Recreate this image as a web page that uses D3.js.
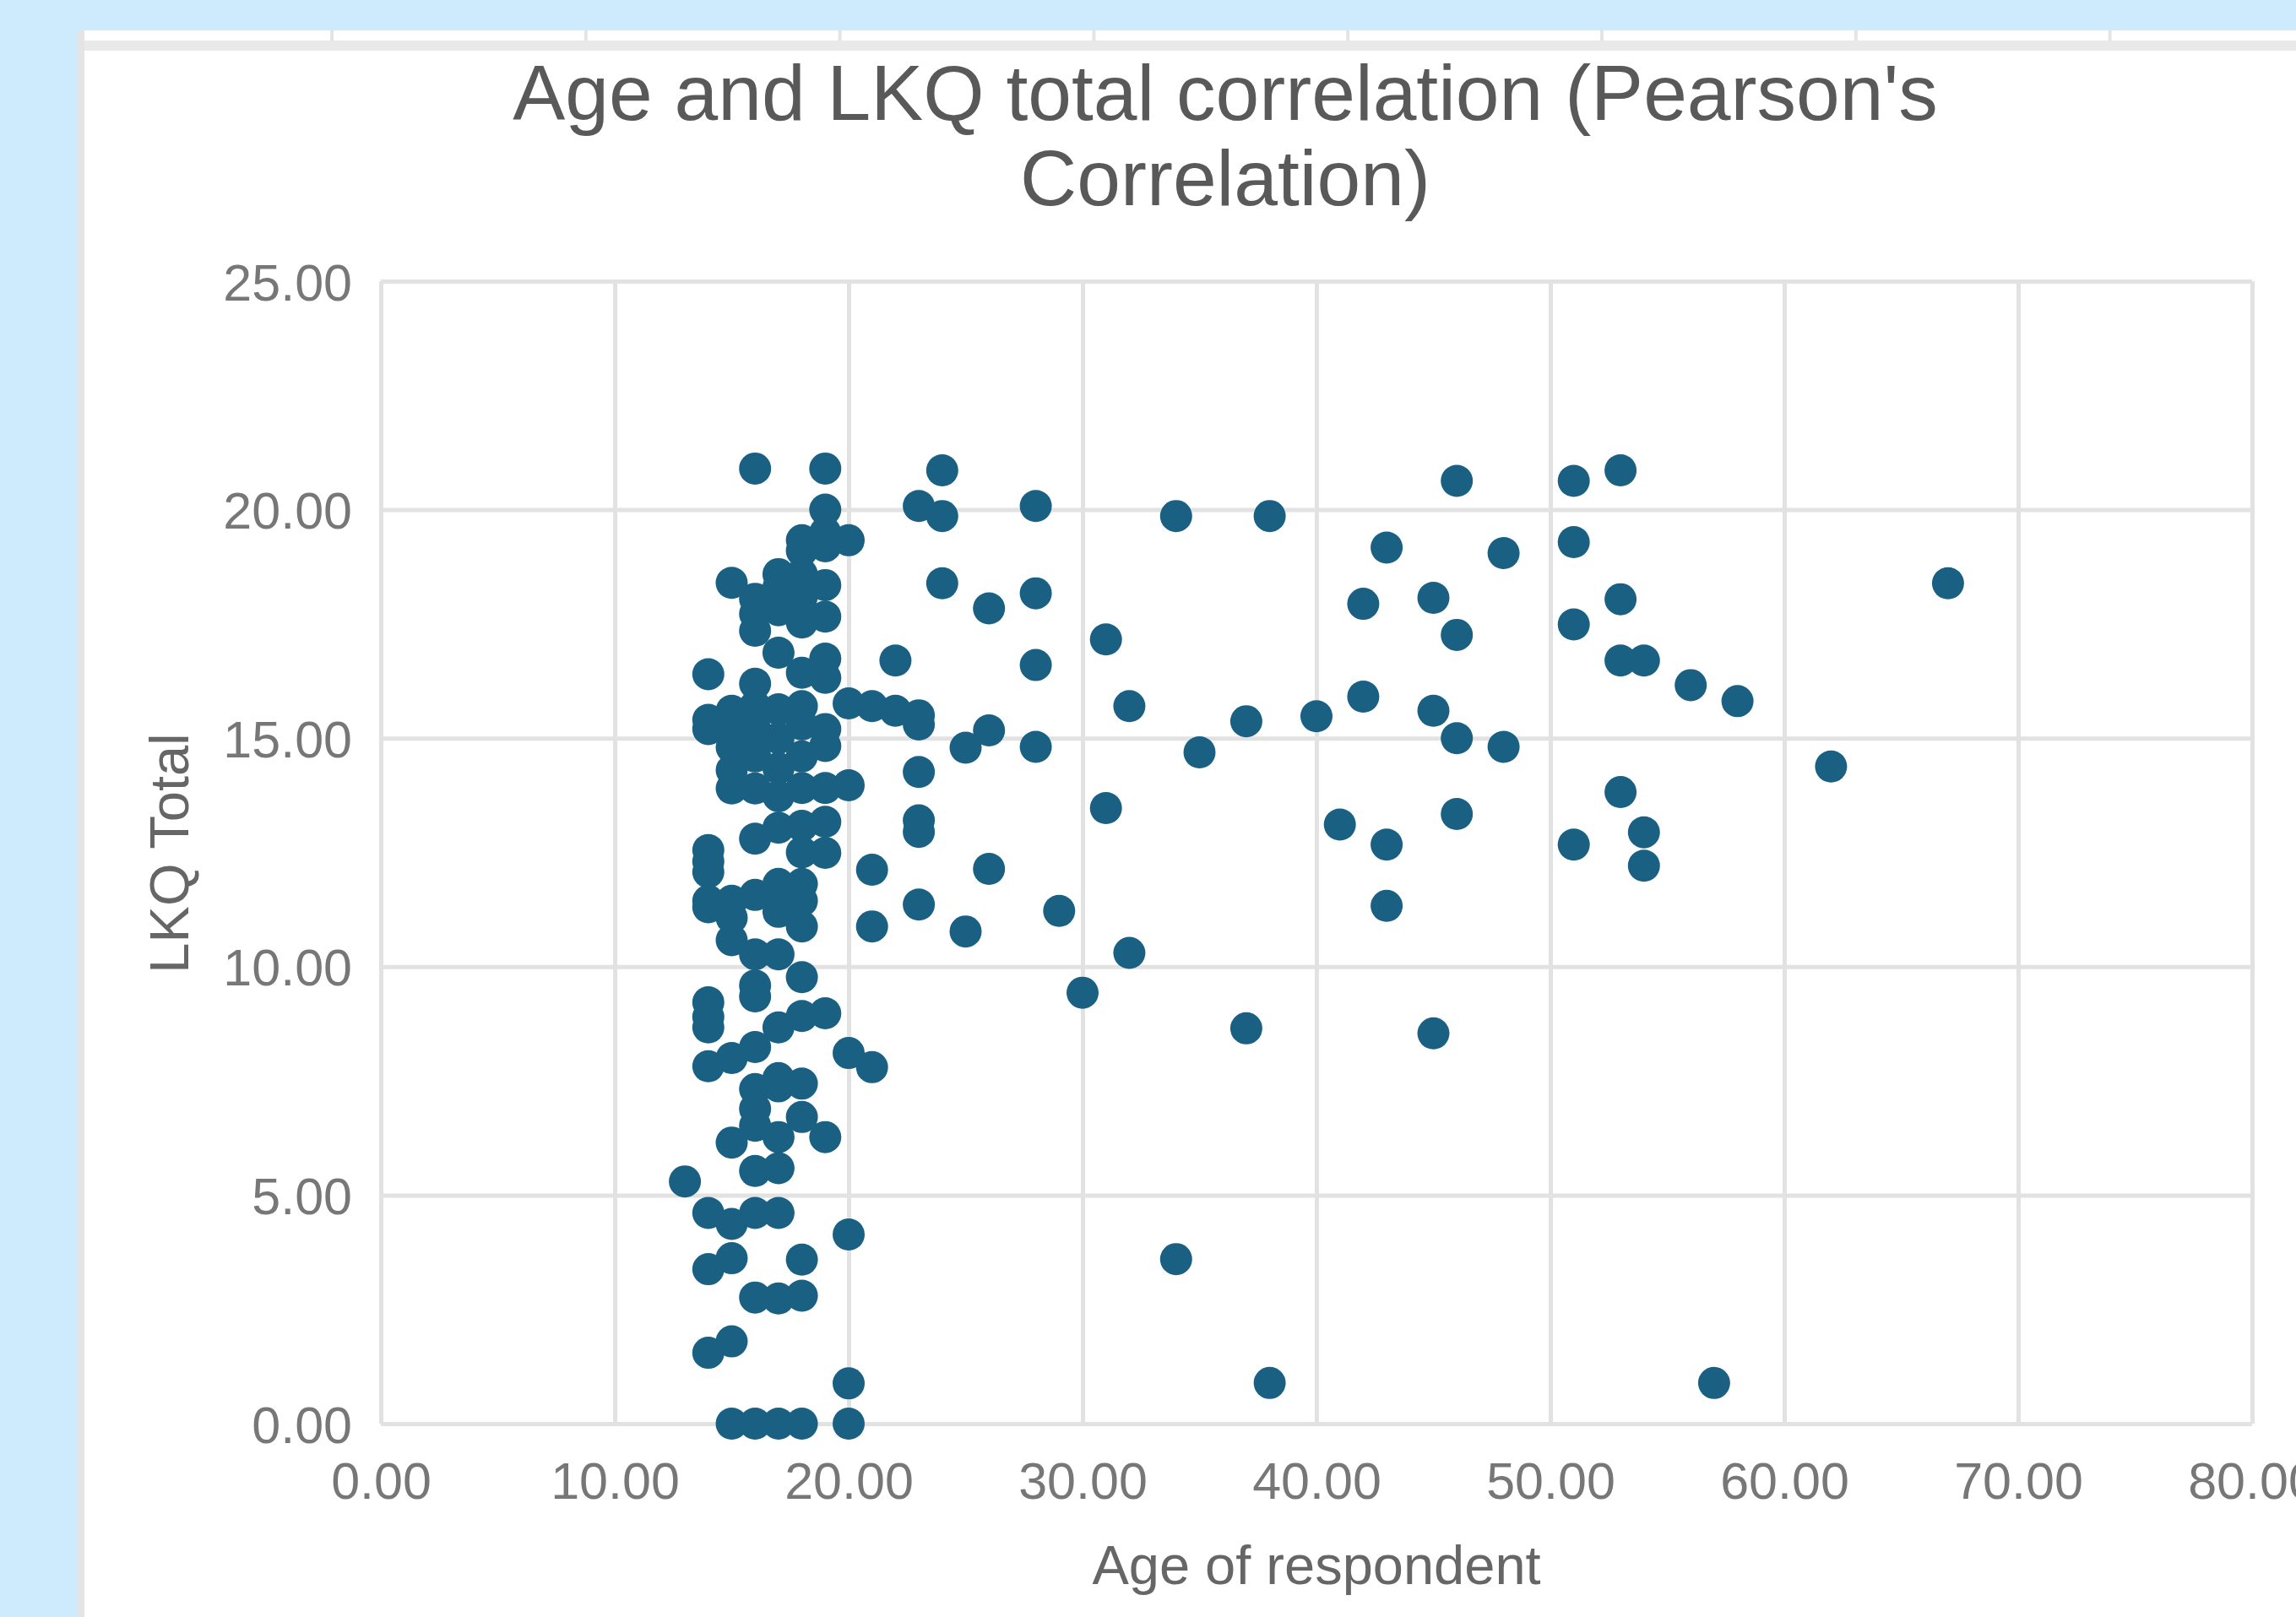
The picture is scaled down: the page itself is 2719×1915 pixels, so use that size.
<!DOCTYPE html>
<html><head><meta charset="utf-8">
<script src="https://cdn.jsdelivr.net/npm/d3@7"></script>
<style>html,body{margin:0;padding:0;background:#cdebfc;overflow:hidden}</style>
</head><body>
<svg id="chart" width="2719" height="1915"></svg>
<script>
// ---- data ----
const ageValues = [
  13,
  14,14,14,14,14,14,14,14,14,14,14,14,14,14,14,
  15,15,15,15,15,15,15,15,15,15,15,15,15,15,15,
  16,16,16,16,16,16,16,16,16,16,16,16,16,16,16,16,16,16,16,16,16,16,
  17,17,17,17,17,17,17,17,17,17,17,17,17,17,17,17,17,17,17,17,17,
  18,18,18,18,18,18,18,18,18,18,18,18,18,18,18,18,18,18,18,18,18,18,18,
  19,19,19,19,19,19,19,19,19,19,19,19,19,19,19,
  20,20,20,20,20,20,20,
  21,21,21,21,
  22,22,
  23,23,23,23,23,23,23,
  24,24,24,
  25,25,
  26,26,26,
  28,28,28,28,
  29,
  30,
  31,31,
  32,32,
  34,34,
  35,
  37,37,
  38,38,
  40,
  41,
  42,42,
  43,43,43,
  45,45,45,
  46,46,46,46,
  48,48,
  51,51,51,51,
  53,53,53,53,
  54,54,54,
  56,
  57,
  58,
  62,
  67
];
const lkqValues = [
  5.3,
  16.4,15.4,15.2,12.55,12.3,12.07,11.44,11.3,9.22,8.9,8.67,7.82,4.61,3.38,1.55,
  18.4,15.6,15.1,14.8,14.3,13.9,11.44,11.07,10.58,8.0,6.15,4.37,3.62,1.8,0,
  20.9,18.05,17.72,17.35,16.19,15.7,15.2,14.6,13.9,12.8,11.57,10.27,9.59,9.35,8.24,7.32,6.89,6.52,5.53,4.61,2.76,0,
  18.59,18.3,17.98,17.8,16.87,15.63,15.0,14.34,13.73,13.04,11.81,11.2,10.27,8.67,7.56,7.38,6.27,5.59,4.61,2.74,0,
  19.33,19.1,18.59,18.1,17.8,17.53,16.43,15.7,15.3,14.6,13.91,13.08,12.5,11.81,11.44,10.88,9.77,8.92,7.44,6.71,3.59,2.8,0,
  20.9,20.0,19.5,19.2,18.35,17.66,16.74,16.32,15.2,14.83,13.91,13.17,12.49,8.98,6.27,
  19.33,15.76,13.97,8.11,4.14,0.88,0,
  15.7,12.12,10.88,7.8,
  16.7,15.6,
  20.08,15.5,15.3,14.26,13.2,12.95,11.36,
  20.86,19.86,18.39,
  14.79,10.77,
  17.84,15.17,12.14,
  20.08,18.17,16.6,14.81,
  11.22,
  9.43,
  17.16,13.47,
  15.7,10.3,
  19.86,3.6,
  14.69,
  15.37,8.65,
  19.86,0.89,
  15.48,
  13.11,
  17.94,15.91,
  19.17,12.67,11.33,
  18.07,15.6,8.54,
  20.63,17.26,15.0,13.34,
  19.05,14.81,
  20.63,19.29,17.49,12.67,
  20.86,18.04,16.7,13.82,
  16.7,12.94,12.21,
  16.16,
  0.89,
  15.81,
  14.38,
  18.39
];
const xTickValues = [0, 10, 20, 30, 40, 50, 60, 70, 80];
const yTickValues = [0, 5, 10, 15, 20, 25];
const titleLines = ["Age and LKQ total correlation (Pearson's", "Correlation)"];
const xAxisTitle = "Age of respondent";
const yAxisTitle = "LKQ Total";

// ---- drawing ----
const W = 2719, H = 1915;
const svg = d3.select("#chart");
const FONT = "'Liberation Sans', Arial, sans-serif";
const gridColor = "#e2e2e2";

// background + sheet panel
svg.append("rect").attr("width", W).attr("height", H).attr("fill", "#cdebfc");
svg.append("rect").attr("x", 92).attr("y", 36).attr("width", W - 92).attr("height", H - 36).attr("fill", "#ffffff");
// cell strip separators above the chart
for (let k = -1; k < 9; k++) {
  const cx = 393 + 300.8 * k;
  if (cx < 100) continue;
  svg.append("rect").attr("x", cx - 2).attr("y", 36).attr("width", 4).attr("height", 14).attr("fill", "#e4e4e4");
}
svg.append("rect").attr("x", 92).attr("y", 48).attr("width", W - 92).attr("height", 12).attr("fill", "#e9e9e9");
svg.append("rect").attr("x", 92).attr("y", 36).attr("width", 8).attr("height", H - 36).attr("fill", "#e4e4e4");

const x = d3.scaleLinear().domain([0, 80]).range([451, 2667]);
const y = d3.scaleLinear().domain([0, 25]).range([1686, 333]);

// gridlines & x axis
const xAxis = svg.append("g").attr("transform", `translate(0,${y(0)})`)
  .call(d3.axisBottom(x).tickValues(xTickValues).tickSize(-(y(0) - y(25))).tickFormat(d3.format(".2f")));
xAxis.select(".domain").remove();
xAxis.selectAll(".tick line").attr("stroke", gridColor).attr("stroke-width", 5);
xAxis.selectAll(".tick text").attr("y", 89).attr("dy", null)
  .attr("font-family", FONT).attr("font-size", 61).attr("fill", "#777777");

const yAxis = svg.append("g").attr("transform", `translate(${x(0)},0)`)
  .call(d3.axisLeft(y).tickValues(yTickValues).tickSize(-(x(80) - x(0))).tickFormat(d3.format(".2f")));
yAxis.select(".domain").remove();
yAxis.selectAll(".tick line").attr("stroke", gridColor).attr("stroke-width", 5);
yAxis.selectAll(".tick text").attr("x", -34).attr("dy", 22)
  .attr("font-family", FONT).attr("font-size", 61).attr("fill", "#777777").attr("text-anchor", "end");

// points
const points = ageValues.map((a, i) => ({ age: a, lkq: lkqValues[i] }));
svg.append("g").selectAll("circle").data(points).join("circle")
  .attr("cx", d => x(d.age)).attr("cy", d => y(d.lkq)).attr("r", 19)
  .attr("fill", "#1a6082");

// title
const title = svg.append("text").attr("text-anchor", "middle")
  .attr("font-family", FONT).attr("font-size", 93).attr("fill", "#595959");
titleLines.forEach((t, i) => {
  title.append("tspan").attr("x", 1451).attr("y", 142 + i * 101).text(t);
});

// axis titles
svg.append("text").attr("x", (x(0) + x(80)) / 2).attr("y", 1876).attr("text-anchor", "middle")
  .attr("font-family", FONT).attr("font-size", 65).attr("fill", "#666666").text(xAxisTitle);
svg.append("text").attr("transform", `translate(223,${(y(0) + y(25)) / 2 + 1}) rotate(-90)`)
  .attr("text-anchor", "middle")
  .attr("font-family", FONT).attr("font-size", 65).attr("fill", "#666666").text(yAxisTitle);
</script>
</body></html>
